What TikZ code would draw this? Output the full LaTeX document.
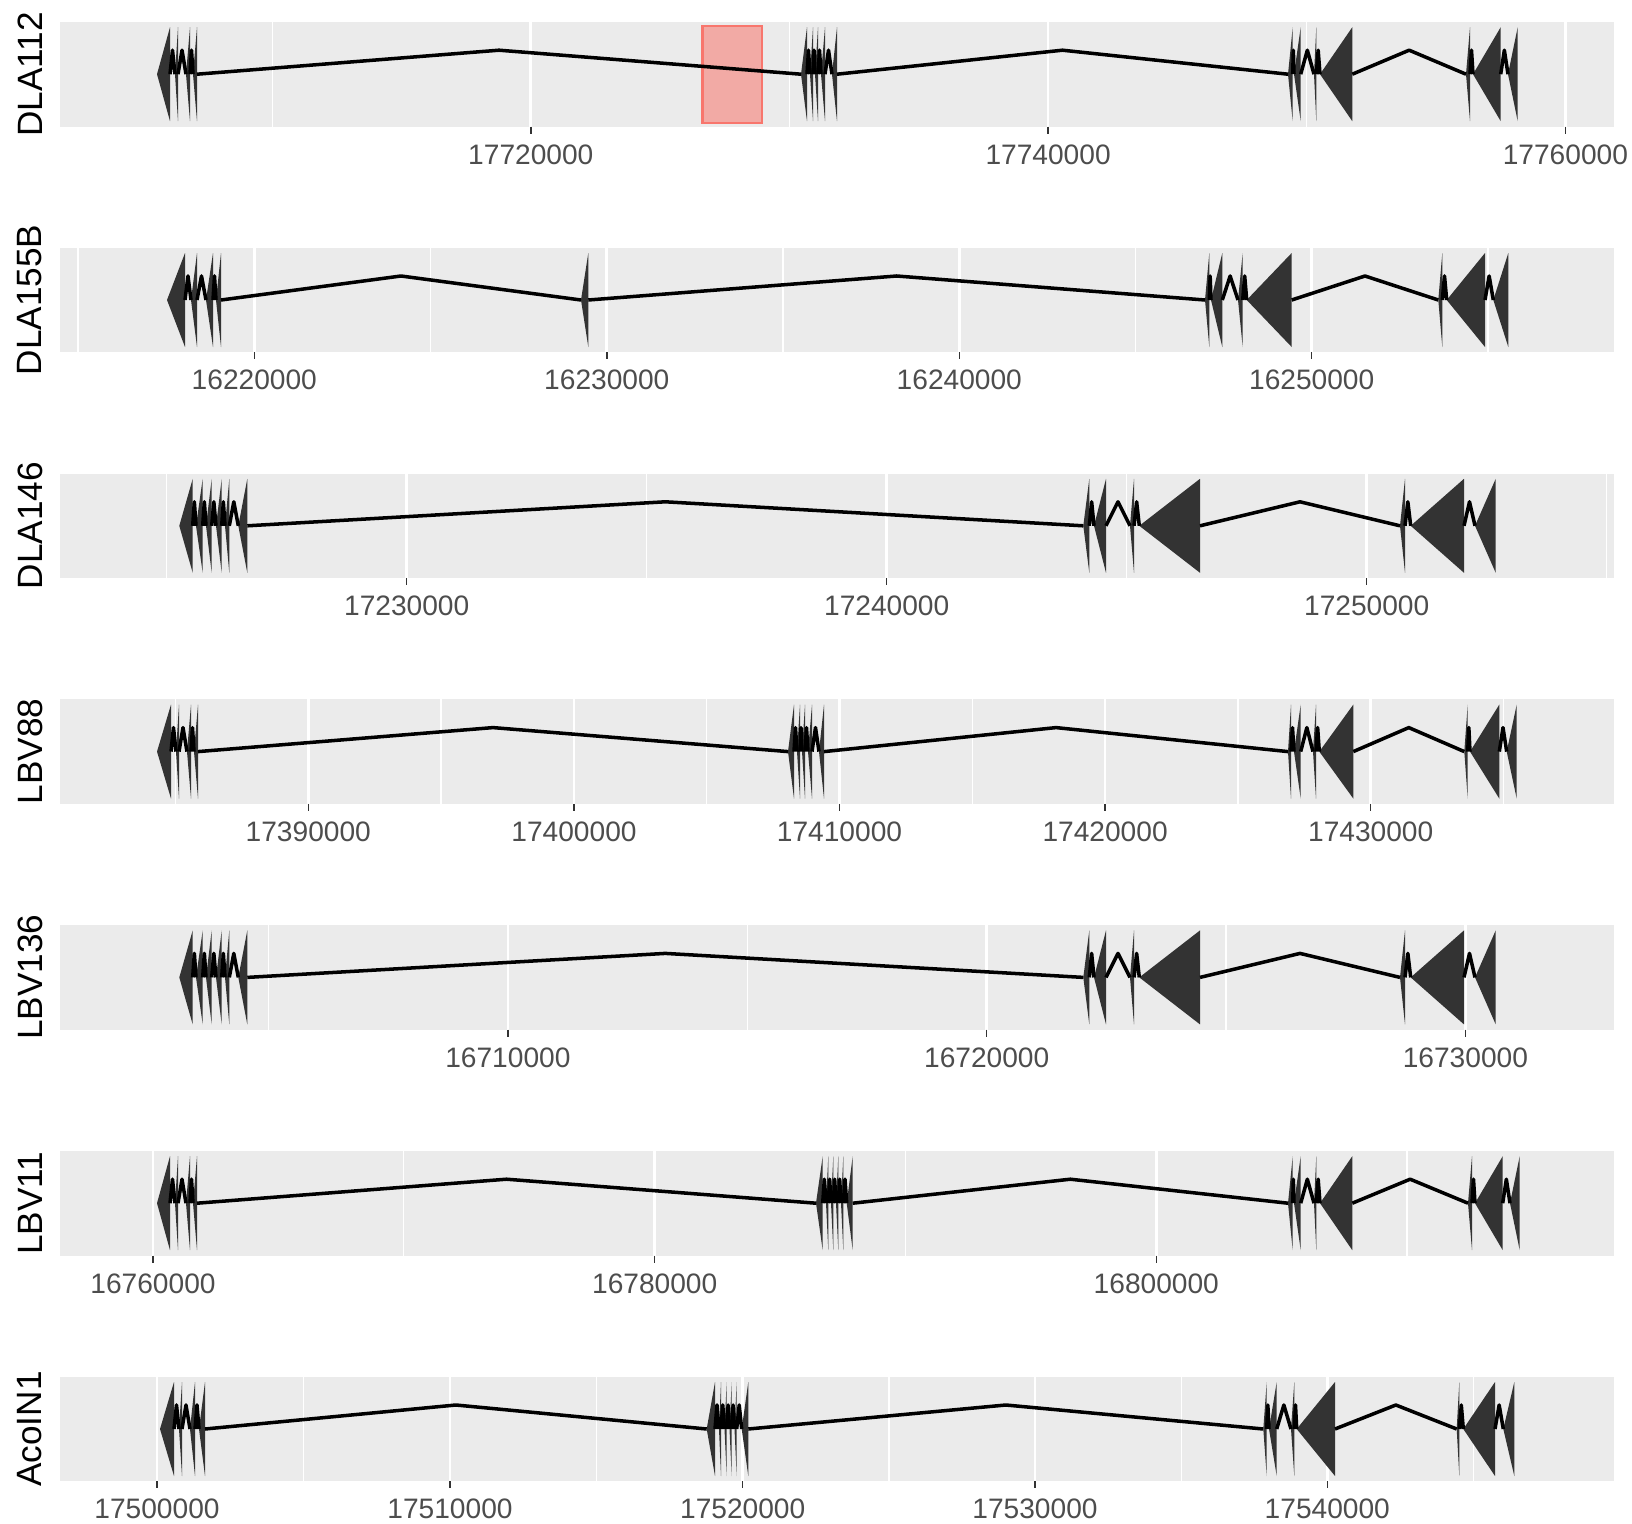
\documentclass[tikz,border=0pt]{standalone}
\usepackage{fontspec}
\setmainfont{Liberation Sans}
\usepackage{tikz}

\definecolor{panelgrey}{HTML}{EBEBEB}
\definecolor{exongrey}{HTML}{333333}
\definecolor{ticktext}{HTML}{4D4D4D}
\definecolor{tickgrey}{HTML}{333333}
\definecolor{hilite}{HTML}{F8766D}

% #1 = centre line of the track, #2 = exons as tip/base
\newcommand{\genetrack}[2]{%
  \foreach \xa/\xb in {#2}
    \fill[exon] (\xb,#1-47) -- (\xb,#1+47) -- (\xa,#1) -- cycle;
  \foreach \xa/\xb [remember=\xb as \lastb (initially 0)] in {#2} {
    \ifdim\lastb pt>0pt
      \draw[intron] (\lastb,#1) -- ({(\lastb+\xa)/2},#1-24) -- (\xa,#1);
    \fi
  }
}

\begin{document}
\begin{tikzpicture}[
  x=0.01cm, y=-0.01cm,
  band/.style={fill=panelgrey},
  majorgrid/.style={white, line width=0.75pt},
  minorgrid/.style={white, line width=0.35pt},
  exon/.style={fill=exongrey},
  intron/.style={black, line width=1pt, line join=round},
  tickmark/.style={tickgrey, line width=0.4pt},
  ticklab/.style={font=\fontsize{8}{9.6}\selectfont, text=ticktext, inner sep=0pt},
  tracklab/.style={font=\fontsize{10}{12}\selectfont, rotate=90, inner sep=0pt}
]
\fill[white] (0,0) rectangle (1632,1524);
\useasboundingbox (0,0) rectangle (1632,1524);

% DLA112
\fill[band] (60.4,22) rectangle (1614,126.5);
\foreach \x in {272.2,789.5,1306.8} \draw[minorgrid] (\x,22) -- (\x,126.5);
\foreach \x/\lab in {530.8/17720000,1048.1/17740000,1565.4/17760000} {
  \draw[majorgrid] (\x,22) -- (\x,126.5);
  \draw[tickmark] (\x,126.5) -- (\x,133.5);
  \node[ticklab] (tick-\lab) at (\x,154.5) {\lab};
}
\filldraw[fill=hilite, fill opacity=0.55, draw=hilite, line width=0.7pt] (702.5,26) rectangle (762,122.8);
\genetrack{74.2}{157/170,175/178,186/190,193/197,801/807,810/813,815/818,821/825,832/837,1288/1292.7,1294/1300.7,1314/1316.3,1320/1352.3,1466/1470,1473/1500.7,1508/1517.7}
\node[tracklab] (lab-DLA112) at (30,74.2) {DLA112};

% DLA155B
\fill[band] (60.4,247.8) rectangle (1614,352.3);
\foreach \x in {78,430.5,783,1135.5,1488} \draw[minorgrid] (\x,247.8) -- (\x,352.3);
\foreach \x/\lab in {254.3/16220000,606.8/16230000,959.3/16240000,1311.7/16250000} {
  \draw[majorgrid] (\x,247.8) -- (\x,352.3);
  \draw[tickmark] (\x,352.3) -- (\x,359.3);
  \node[ticklab] (tick-\lab) at (\x,380.3) {\lab};
}
\genetrack{300}{167/185,191/197,206/213,216/221,581/588.3,1205/1209.3,1211/1222.3,1238/1242.7,1246.7/1291.7,1438.3/1442.3,1446.7/1485,1493.3/1508.3}
\node[tracklab] (lab-DLA155B) at (30,300) {DLA155B};

% DLA146
\fill[band] (60.4,473.6) rectangle (1614,578.1);
\foreach \x in {166.7,646.7,1126.7,1606.7} \draw[minorgrid] (\x,473.6) -- (\x,578.1);
\foreach \x/\lab in {406.7/17230000,886.7/17240000,1366.7/17250000} {
  \draw[majorgrid] (\x,473.6) -- (\x,578.1);
  \draw[tickmark] (\x,578.1) -- (\x,585.1);
  \node[ticklab] (tick-\lab) at (\x,606.1) {\lab};
}
\genetrack{525.8}{179.3/192.7,196/202.7,206/211.7,216/221.7,225/229.3,238.3/247.3,1083.3/1089.3,1094/1106,1130/1134,1139.3/1200,1400/1405,1410.7/1464,1475/1495.7}
\node[tracklab] (lab-DLA146) at (30,525.8) {DLA146};

% LBV88
\fill[band] (60.4,699.4) rectangle (1614,803.9);
\foreach \x in {175.5,441.1,706.7,972.3,1237.9,1503.5} \draw[minorgrid] (\x,699.4) -- (\x,803.9);
\foreach \x/\lab in {308.3/17390000,574/17400000,839.5/17410000,1105.1/17420000,1370.7/17430000} {
  \draw[majorgrid] (\x,699.4) -- (\x,803.9);
  \draw[tickmark] (\x,803.9) -- (\x,810.9);
  \node[ticklab] (tick-\lab) at (\x,831.9) {\lab};
}
\genetrack{751.6}{157/171,176/179,187/191,194/198,788/794,797/800,802/805,808/812,819/824,1288/1291,1294/1300.7,1313/1316,1319.3/1353.3,1464.3/1467.7,1470/1499.3,1506.7/1516.7}
\node[tracklab] (lab-LBV88) at (30,751.6) {LBV88};

% LBV136
\fill[band] (60.4,925.2) rectangle (1614,1029.7);
\foreach \x in {268.5,747.3,1226.1} \draw[minorgrid] (\x,925.2) -- (\x,1029.7);
\foreach \x/\lab in {507.9/16710000,986.7/16720000,1465.4/16730000} {
  \draw[majorgrid] (\x,925.2) -- (\x,1029.7);
  \draw[tickmark] (\x,1029.7) -- (\x,1036.7);
  \node[ticklab] (tick-\lab) at (\x,1057.7) {\lab};
}
\genetrack{977.4}{179.3/192.7,196/202.7,206/211.7,216/221.7,225/229.3,238.3/247.3,1083.3/1089.3,1094/1106,1130/1134,1139.3/1200,1400/1405,1410.7/1464,1475/1495.7}
\node[tracklab] (lab-LBV136) at (30,977.4) {LBV136};

% LBV11
\fill[band] (60.4,1151) rectangle (1614,1255.5);
\foreach \x in {403.8,905.5,1407.1} \draw[minorgrid] (\x,1151) -- (\x,1255.5);
\foreach \x/\lab in {153/16760000,654.7/16780000,1156.3/16800000} {
  \draw[majorgrid] (\x,1151) -- (\x,1255.5);
  \draw[tickmark] (\x,1255.5) -- (\x,1262.5);
  \node[ticklab] (tick-\lab) at (\x,1283.5) {\lab};
}
\genetrack{1203.2}{157/170,175/178,186/190,193/197,816/822.7,826/828.3,831/833.3,836/838.3,841/843.3,846.7/852.7,1288/1292.7,1294/1300.7,1314/1316.3,1320/1352.3,1468/1472,1475/1502.7,1510/1519.7}
\node[tracklab] (lab-LBV11) at (30,1203.2) {LBV11};

% AcoIN1
\fill[band] (60.4,1376.8) rectangle (1614,1481.3);
\foreach \x in {303.5,596.4,888.9,1181.2,1473.6} \draw[minorgrid] (\x,1376.8) -- (\x,1481.3);
\foreach \x/\lab in {157/17500000,450/17510000,742.7/17520000,1035/17530000,1327.3/17540000} {
  \draw[majorgrid] (\x,1376.8) -- (\x,1481.3);
  \draw[tickmark] (\x,1481.3) -- (\x,1488.3);
  \node[ticklab] (tick-\lab) at (\x,1509.3) {\lab};
}
\genetrack{1429}{160/174,179/182,190/195,199/205,706.7/715,719/721,724.5/726.7,729.5/731.7,734.5/736.7,741.7/748.3,1263.3/1266.7,1269/1276.7,1291/1294.3,1296.7/1335,1456.7/1459.3,1463.3/1495,1503.3/1514.3}
\node[tracklab] (lab-AcoIN1) at (30,1429) {AcoIN1};
\end{tikzpicture}
\end{document}
